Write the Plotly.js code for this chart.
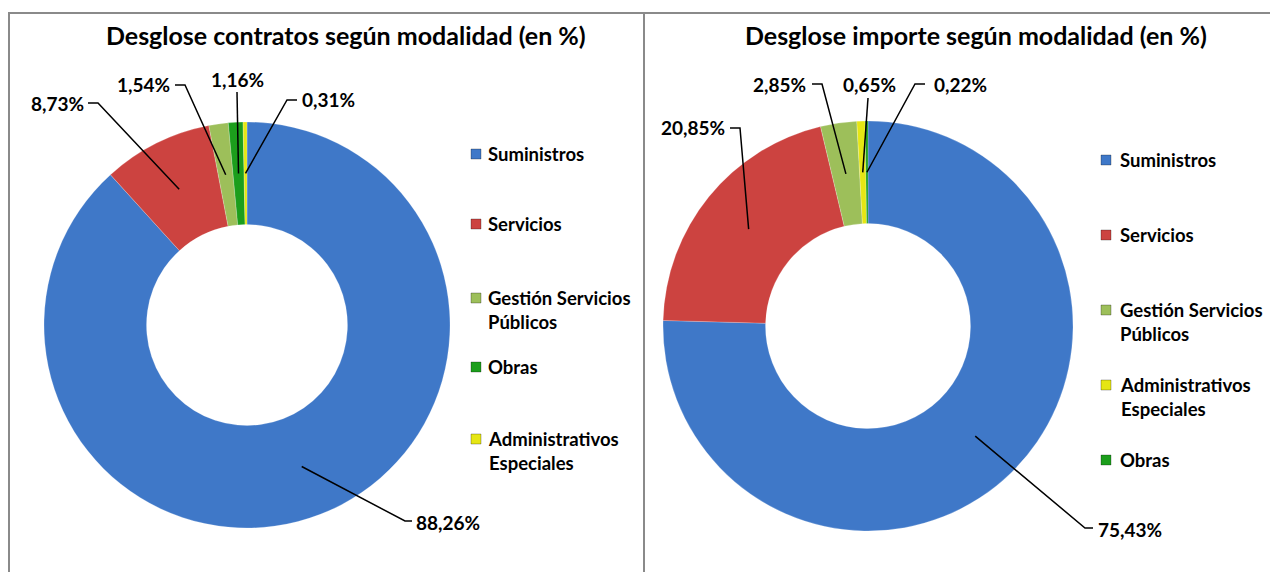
<!DOCTYPE html>
<html><head><meta charset="utf-8">
<script src="https://cdn.plot.ly/plotly-3.0.1.min.js"></script>
<style>html,body{margin:0;padding:0;background:#fff;overflow:hidden}</style>
</head><body><div id="chart" style="width:1270px;height:572px"></div>
<script>
// ---------- DATA ----------
const leftTitle = "Desglose contratos según modalidad (en %)";
const leftCategories = ["Suministros", "Servicios", "Gestión Servicios Públicos", "Obras", "Administrativos Especiales"];
const leftValues = [88.26, 8.73, 1.54, 1.16, 0.31];

const rightTitle = "Desglose importe según modalidad (en %)";
const rightCategories = ["Suministros", "Servicios", "Gestión Servicios Públicos", "Administrativos Especiales", "Obras"];
const rightValues = [75.43, 20.85, 2.85, 0.65, 0.22];

// ---------- STYLE / LAYOUT ----------
const W = 1270, H = 572;
const FONT = "Lato, 'Open Sans', sans-serif";
const colors = {
  "Suministros": "#3f78c8",
  "Servicios": "#cc4340",
  "Gestión Servicios Públicos": "#9dbf5a",
  "Obras": "#1c9e1c",
  "Administrativos Especiales": "#e6e614"
};
const legendText = {
  "Gestión Servicios Públicos": "Gestión Servicios<br>Públicos",
  "Administrativos Especiales": "Administrativos<br>Especiales"
};
// panel geometry (pixels)
const panels = [
  {
    title: leftTitle, cats: leftCategories, vals: leftValues,
    cx: 247, cy: 325, R: 203, hole: 0.495, titleX: 346, titleY: 35,
    legX: 476, legTextX: 486, legY: [154, 224, 310, 367, 451],
    labels: [
      {ex: 405, ey: 521, sx: 412, tx: 414, ty: 522, xa: "left"},
      {ex: 98, ey: 103, sx: 88, tx: 86, ty: 103, xa: "right"},
      {ex: 185, ey: 85, sx: 175, tx: 172, ty: 85, xa: "right"},
      {ex: 237, ey: 92, sx: 237, tx: 237, ty: 79, xa: "center"},
      {ex: 287, ey: 100, sx: 297, tx: 300, ty: 100, xa: "left"}
    ]
  },
  {
    title: rightTitle, cats: rightCategories, vals: rightValues,
    cx: 868, cy: 326, R: 205, hole: 0.5, titleX: 976, titleY: 35,
    legX: 1106, legTextX: 1118, legY: [160, 235, 322, 397, 460],
    labels: [
      {ex: 1085, ey: 528, sx: 1093, tx: 1096, ty: 529, xa: "left"},
      {ex: 740, ey: 128, sx: 730, tx: 727, ty: 128, xa: "right"},
      {ex: 822, ey: 84, sx: 812, tx: 808, ty: 84, xa: "right"},
      {ex: 868, ey: 98, sx: 868, tx: 869, ty: 84, xa: "center"},
      {ex: 915, ey: 84, sx: 925, tx: 932, ty: 84, xa: "left"}
    ]
  }
];

const px = x => x / W;
const py = y => 1 - y / H;
const fmt = v => v.toFixed(2).replace(".", ",") + "%";

const traces = [];
const shapes = [];
const annotations = [];

// panel borders
shapes.push({type: "rect", xref: "paper", yref: "paper", x0: px(9), x1: px(644), y0: -0.1, y1: py(13),
  line: {color: "#8a8a8a", width: 2}, layer: "below"});
shapes.push({type: "rect", xref: "paper", yref: "paper", x0: px(644), x1: 1.1, y0: -0.1, y1: py(13),
  line: {color: "#8a8a8a", width: 2}, layer: "below"});

panels.forEach(p => {
  traces.push({
    type: "pie", labels: p.cats, values: p.vals, sort: false, direction: "clockwise", rotation: 0,
    hole: p.hole, textinfo: "none", hoverinfo: "label+percent", showlegend: false,
    marker: {colors: p.cats.map(c => colors[c]), line: {color: "rgba(255,255,255,0.35)", width: 0.6}},
    domain: {x: [px(p.cx - p.R), px(p.cx + p.R)], y: [py(p.cy + p.R), py(p.cy - p.R)]}
  });
  annotations.push({xref: "paper", yref: "paper", x: px(p.titleX), y: py(p.titleY), text: "<b>" + p.title + "</b>",
    showarrow: false, xanchor: "center", yanchor: "middle", font: {family: FONT, size: 25, color: "#000"}});
  // leader lines and labels, anchors computed from data
  const total = p.vals.reduce((a, b) => a + b, 0);
  let cum = 0;
  const rMid = p.R * (1 + p.hole) / 2;
  p.vals.forEach((v, i) => {
    const mid = (cum + v / 2) / total * 2 * Math.PI;
    cum += v;
    const ax = p.cx + rMid * Math.sin(mid);
    const ay = p.cy - rMid * Math.cos(mid);
    const L = p.labels[i];
    let path = `M ${px(ax)} ${py(ay)} L ${px(L.ex)} ${py(L.ey)}`;
    if (L.sx !== L.ex) path += ` L ${px(L.sx)} ${py(L.ey)}`;
    shapes.push({type: "path", xref: "paper", yref: "paper", path: path, line: {color: "#000", width: 1.5}});
    annotations.push({xref: "paper", yref: "paper", x: px(L.tx), y: py(L.ty), text: "<b>" + fmt(v) + "</b>",
      showarrow: false, xanchor: L.xa, yanchor: "middle", font: {family: FONT, size: 19, color: "#000"}});
  });
  // custom legend
  p.cats.forEach((c, i) => {
    const y = p.legY[i];
    const multi = !!legendText[c];
    const firstLineY = multi ? y - 12 : y;
    shapes.push({type: "rect", xref: "paper", yref: "paper",
      x0: px(p.legX - 5), x1: px(p.legX + 5), y0: py(firstLineY + 5), y1: py(firstLineY - 5),
      fillcolor: colors[c], line: {color: "rgba(0,0,0,0.35)", width: 0.8}});
    annotations.push({xref: "paper", yref: "paper", x: px(p.legTextX), y: py(y), text: "<b>" + (legendText[c] || c) + "</b>",
      showarrow: false, xanchor: "left", yanchor: "middle", align: "left",
      font: {family: FONT, size: 18.5, color: "#000"}});
  });
});

const layout = {
  width: W, height: H, margin: {l: 0, r: 0, t: 0, b: 0},
  paper_bgcolor: "#fff", plot_bgcolor: "#fff", showlegend: false,
  shapes: shapes, annotations: annotations
};
Plotly.newPlot("chart", traces, layout, {displayModeBar: false, staticPlot: true});
</script>
</body></html>
